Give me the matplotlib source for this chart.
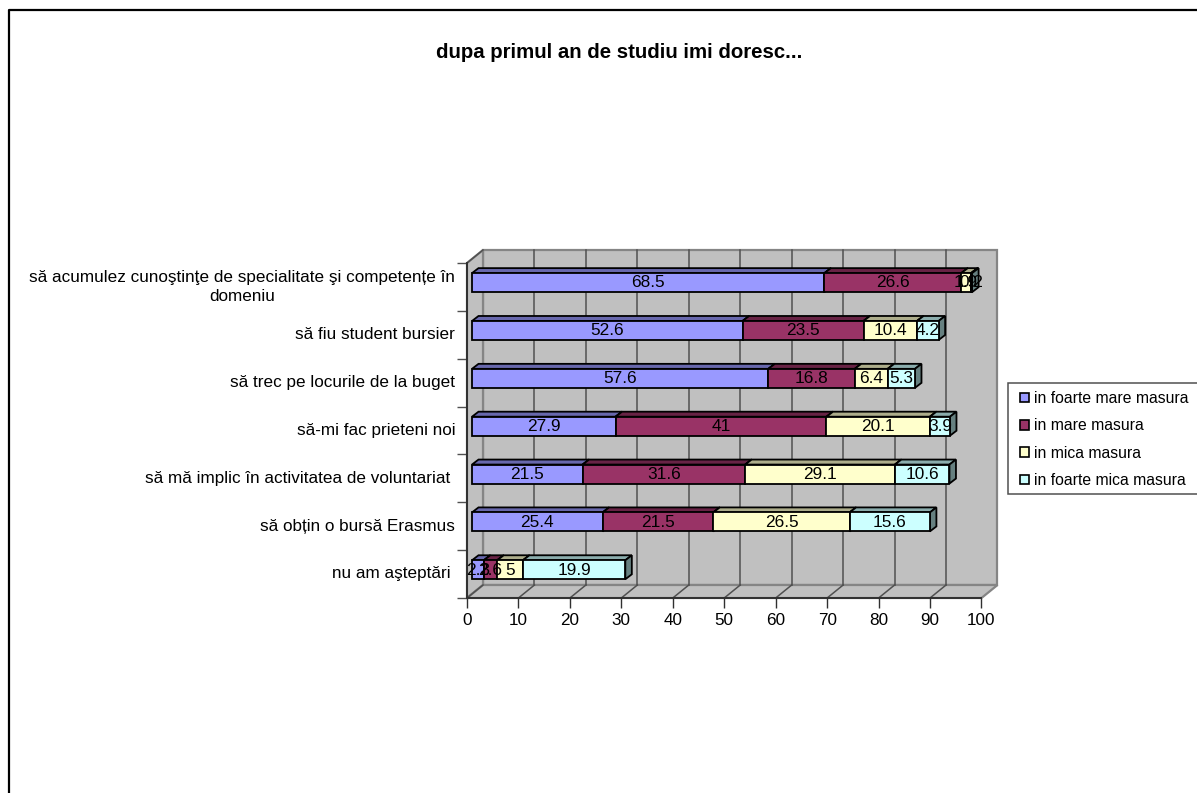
import matplotlib
matplotlib.use("Agg")
import matplotlib.pyplot as plt
from matplotlib.lines import Line2D
from matplotlib.patches import Patch, Polygon, Rectangle
from matplotlib.transforms import ScaledTranslation
import numpy as np

plt.rcParams['font.family'] = ['Liberation Sans', 'DejaVu Sans']

title = "dupa primul an de studiu imi doresc..."
categories = [
    "să acumulez cunoştinţe de specialitate şi competențe în\ndomeniu",
    "să fiu student bursier",
    "să trec pe locurile de la buget",
    "să-mi fac prieteni noi",
    "să mă implic în activitatea de voluntariat ",
    "să obțin o bursă Erasmus",
    "nu am aşteptări ",
]
series_names = ["in foarte mare masura", "in mare masura", "in mica masura", "in foarte mica masura"]
foarte_mare = [68.5, 52.6, 57.6, 27.9, 21.5, 25.4, 2.3]
mare = [26.6, 23.5, 16.8, 41, 31.6, 21.5, 2.6]
mica = [1.9, 10.4, 6.4, 20.1, 29.1, 26.5, 5]
foarte_mica = [0.2, 4.2, 5.3, 3.9, 10.6, 15.6, 19.9]
colors = ["#9999FF", "#993366", "#FFFFCC", "#CCFFFF"]
x_ticks = list(range(0, 101, 10))

W, H = 1197, 793
fig = plt.figure(figsize=(W / 100, H / 100), dpi=100)

# axes = front plane of the fake 3d box
left, right, top, bottom = 467, 981.5, 263, 598
ax = fig.add_axes([left / W, 1 - bottom / H, (right - left) / W, (bottom - top) / H])
ax.set_xlim(0, 100)
ax.set_ylim(7, 0)
px_x = 100 / (right - left)  # data units per pixel
px_y = 7 / (bottom - top)


def shade(color, k):
    rgb = np.array(matplotlib.colors.to_rgb(color))
    return tuple(rgb * k)


# walls and floor
ddx = 16 * px_x
ddy = 13 * px_y
wall = "#C0C0C0"
wall_edge = "#858585"
for pts in [
    [(ddx, -ddy), (100 + ddx, -ddy), (100 + ddx, 7 - ddy), (ddx, 7 - ddy)],
    [(0, 0), (ddx, -ddy), (ddx, 7 - ddy), (0, 7)],
    [(0, 7), (100, 7), (100 + ddx, 7 - ddy), (ddx, 7 - ddy)],
]:
    ax.add_patch(Polygon(pts, closed=True, fc=wall, ec=wall_edge, lw=1.6, clip_on=False, zorder=1))

for v in x_ticks[1:-1]:
    ax.plot([v + ddx, v + ddx], [-ddy, 7 - ddy], color="#505050", lw=1.1, clip_on=False, zorder=1.5)
for v in x_ticks[:-1]:
    ax.plot([v, v + ddx], [7, 7 - ddy], color="#505050", lw=1.1, clip_on=False, zorder=1.5)
ax.plot([0, ddx], [0, -ddy], color="#505050", lw=1.1, clip_on=False, zorder=1.5)

# stacked bars
rows = np.arange(len(categories)) + 0.5
series = [foarte_mare, mare, mica, foarte_mica]
off_x, off_y = 5 * px_x, 4 * px_y
bar_h = 19 * px_y
dep_x, dep_y = 6.5 * px_x, 5 * px_y
z = 3
edge = dict(ec="black", lw=1.3, clip_on=False)

for i in range(len(categories)):
    start = 0
    top_y = rows[i] - off_y - bar_h / 2 - 0.3 * px_y
    low_y = top_y + bar_h
    for vals, c in zip(series, colors):
        x0 = start + off_x
        x1 = x0 + vals[i]
        ax.add_patch(Polygon([(x0, top_y), (x0 + dep_x, top_y - dep_y), (x1 + dep_x, top_y - dep_y), (x1, top_y)],
                             fc=shade(c, 0.68), zorder=z, **edge))
        ax.add_patch(Polygon([(x1, top_y), (x1 + dep_x, top_y - dep_y), (x1 + dep_x, low_y - dep_y), (x1, low_y)],
                             fc=shade(c, 0.5), zorder=z, **edge))
        ax.barh((top_y + low_y) / 2, vals[i], height=bar_h, left=x0, color=c, zorder=z, **edge)
        z += 0.01
        start += vals[i]

# value labels go on top of everything
for i in range(len(categories)):
    start = 0
    for vals in series:
        ax.text(start + off_x + vals[i] / 2, rows[i] - off_y, f"{vals[i]:g}",
                ha="center", va="center", fontsize=12.4, color="black", zorder=10, clip_on=False)
        start += vals[i]

# axes
for s in ["top", "right"]:
    ax.spines[s].set_visible(False)
for s in ["left", "bottom"]:
    ax.spines[s].set_color("#303030")
    ax.spines[s].set_linewidth(1.4)
    ax.spines[s].set_zorder(2)
ax.patch.set_visible(False)
ax.set_xticks(x_ticks)
ax.tick_params(axis="x", length=7.2, width=1, color="#303030", labelsize=12.3, pad=3.5)
ax.set_yticks(range(8))
ax.set_yticklabels([])
ax.tick_params(axis="y", which="major", length=7, width=1, color="#505050")
ax.set_yticks(rows, categories, minor=True)
ax.tick_params(axis="y", which="minor", length=0, pad=8.5, labelsize=12.3)
for n, lab in enumerate(ax.get_yticklabels(minor=True)):
    lab.set_multialignment("center")
    lab.set_linespacing(1.35)
    # labels sit slightly above the middle of their band, the wrapped one a bit more
    shift = 3.5 if n == 0 else 1.7
    lab.set_transform(lab.get_transform() + ScaledTranslation(0, shift / 100, fig.dpi_scale_trans))

fig.text(619.5 / W, 1 - 52.5 / H, title, ha="center", va="center", fontsize=14.7, fontweight="bold")

# legend box runs past the right edge of the picture like in the source
fig.add_artist(Rectangle((1007.5 / W, 1 - 494 / H), 215 / W, 111 / H, transform=fig.transFigure,
                         fc="white", ec="#505050", lw=1.1))
handles = [Patch(fc=c, ec="black", lw=1.2) for c in colors]
fig.legend(handles, series_names, loc="upper left", bbox_to_anchor=(1020 / W, 1 - 391 / H),
           fontsize=11.35, frameon=False, borderaxespad=0, borderpad=0, labelspacing=0.78,
           handlelength=0.56, handleheight=0.56, handletextpad=0.3)

# outer chart border, only the top and left sides fall inside the picture
fig.add_artist(Line2D([8.5 / W, 8.5 / W, 1], [0, 1 - 9.5 / H, 1 - 9.5 / H], color="black", lw=1.6))

fig.savefig("out.png", dpi=100)
